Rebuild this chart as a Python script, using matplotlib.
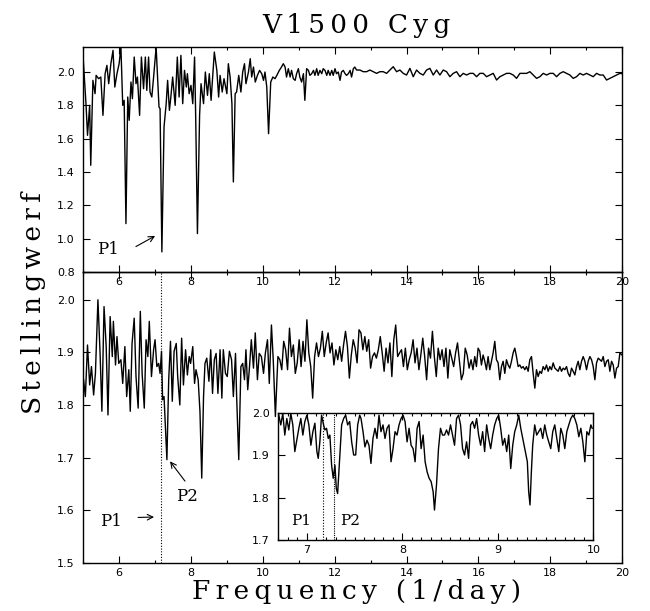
import numpy as np
import matplotlib.pyplot as plt
from matplotlib.ticker import MultipleLocator

# upper periodogram, 5-12.6 1/day (irregular sampling around the deep minima)
top_freq = [5.00, 5.08, 5.12, 5.18, 5.21, 5.27, 5.33, 5.36, 5.43, 5.49,
            5.55, 5.61, 5.66, 5.71, 5.77, 5.83, 5.88, 5.94, 6.00, 6.05,
            6.10, 6.14, 6.19, 6.24, 6.28, 6.33, 6.37, 6.42, 6.47, 6.51,
            6.57, 6.62, 6.68, 6.73, 6.77, 6.82, 6.86, 6.91, 6.96, 7.03,
            7.11, 7.14, 7.19, 7.25, 7.31, 7.35, 7.40, 7.44, 7.49, 7.56,
            7.62, 7.67, 7.72, 7.77, 7.82, 7.87, 7.90, 7.95, 8.00, 8.05,
            8.10, 8.13, 8.18, 8.24, 8.28, 8.35, 8.40, 8.46, 8.51, 8.56,
            8.61, 8.65, 8.72, 8.77, 8.81, 8.87, 8.92, 9.00, 9.04, 9.09,
            9.14, 9.18, 9.23, 9.27, 9.33, 9.39, 9.44, 9.49, 9.53, 9.60,
            9.65, 9.69, 9.74, 9.79, 9.85, 9.91, 9.97, 10.02, 10.06, 10.11,
            10.16, 10.22, 10.28, 10.34, 10.39, 10.46, 10.52, 10.57, 10.62, 10.66,
            10.71, 10.76, 10.80, 10.85, 10.90, 10.94, 10.99, 11.03, 11.08, 11.13,
            11.17, 11.22, 11.27, 11.31, 11.36, 11.41, 11.45, 11.50, 11.54, 11.59,
            11.64, 11.68, 11.73, 11.78, 11.82, 11.87, 11.92, 11.96, 12.01, 12.05,
            12.10, 12.15, 12.19, 12.24, 12.29, 12.33, 12.38, 12.43, 12.47, 12.52,
            12.56]
top_stat = [2.08, 1.80, 1.62, 1.80, 1.44, 1.95, 1.87, 1.98, 1.96, 1.97,
            1.74, 1.99, 2.04, 1.93, 2.05, 2.13, 1.91, 1.99, 2.05, 2.15,
            1.80, 1.83, 1.09, 1.85, 1.71, 1.94, 1.84, 2.09, 1.93, 1.97,
            1.74, 2.09, 1.90, 2.09, 1.89, 2.09, 1.88, 1.85, 1.97, 2.15,
            1.79, 1.78, 0.92, 1.67, 1.81, 1.95, 1.77, 1.85, 1.97, 1.80,
            2.09, 1.85, 2.10, 1.81, 2.01, 1.91, 1.99, 1.87, 1.92, 1.81,
            2.09, 1.75, 1.03, 1.74, 1.93, 1.81, 2.00, 1.86, 1.99, 1.83,
            1.99, 2.12, 2.01, 1.85, 1.98, 1.88, 1.96, 1.87, 2.05, 1.97,
            1.81, 1.34, 1.87, 1.88, 1.98, 1.88, 2.00, 2.05, 1.93, 2.00,
            2.08, 1.97, 2.03, 1.94, 1.98, 2.01, 1.99, 1.95, 2.00, 1.91,
            1.63, 1.94, 1.97, 1.96, 1.98, 2.01, 2.03, 2.05, 2.03, 1.97,
            2.02, 1.97, 2.01, 1.96, 1.95, 1.99, 2.02, 1.97, 1.94, 1.99,
            1.83, 2.02, 2.01, 1.98, 1.99, 2.01, 1.98, 2.02, 1.98, 2.01,
            1.99, 2.02, 2.01, 1.98, 2.01, 1.98, 2.01, 1.98, 2.02, 1.99,
            2.00, 1.95, 2.00, 2.01, 1.99, 1.98, 1.99, 2.01, 1.97, 2.02,
            2.03]
# upper periodogram tail, even grid 12.61-19.94
top_tail = [2.012, 2.012, 2.002, 2.002, 2.012, 2.002, 1.992, 2.002, 2.002, 1.992,
            2.012, 2.032, 2.002, 2.012, 1.992, 1.982, 2.022, 1.972, 2.012, 1.992,
            1.982, 2.012, 2.022, 1.982, 2.012, 1.982, 2.012, 2.002, 1.972, 1.992,
            2.002, 1.972, 1.992, 1.982, 1.992, 1.992, 1.972, 1.992, 1.992, 1.972,
            1.982, 1.992, 1.952, 1.972, 1.982, 1.992, 1.992, 1.982, 1.962, 1.992,
            1.992, 1.992, 2.002, 1.982, 1.962, 1.972, 1.992, 1.982, 1.992, 1.992,
            1.972, 1.992, 2.002, 1.992, 1.982, 1.962, 1.972, 1.992, 1.982, 1.992,
            1.982, 1.972, 1.992, 1.982, 1.982, 1.952, 1.962, 1.972, 1.982, 1.992]

# lower periodogram, 5-10.35 1/day
low_freq = [5.01, 5.06, 5.12, 5.18, 5.23, 5.29, 5.34, 5.41, 5.47, 5.52,
            5.58, 5.64, 5.69, 5.75, 5.81, 5.84, 5.90, 5.94, 5.99, 6.05,
            6.10, 6.16, 6.21, 6.27, 6.31, 6.36, 6.42, 6.47, 6.53, 6.59,
            6.64, 6.70, 6.75, 6.80, 6.84, 6.90, 6.96, 7.00, 7.05, 7.10,
            7.14, 7.18, 7.21, 7.25, 7.33, 7.38, 7.43, 7.48, 7.53, 7.59,
            7.63, 7.69, 7.74, 7.79, 7.85, 7.90, 7.95, 7.99, 8.05, 8.10,
            8.14, 8.20, 8.25, 8.30, 8.35, 8.39, 8.44, 8.50, 8.55, 8.60,
            8.65, 8.70, 8.75, 8.81, 8.86, 8.90, 8.96, 9.01, 9.07, 9.13,
            9.18, 9.24, 9.27, 9.33, 9.39, 9.44, 9.49, 9.53, 9.58, 9.63,
            9.68, 9.74, 9.79, 9.85, 9.90, 9.96, 10.02, 10.07, 10.13, 10.18,
            10.24, 10.29, 10.35]
low_stat = [1.848, 1.816, 1.914, 1.838, 1.873, 1.819, 1.860, 2.000, 1.898, 1.788,
            1.987, 1.911, 1.781, 1.968, 1.892, 1.959, 1.876, 1.930, 1.879, 1.886,
            1.841, 1.911, 1.816, 1.867, 1.788, 1.917, 1.965, 1.854, 1.794, 1.978,
            1.860, 1.794, 1.924, 1.892, 1.959, 1.854, 1.905, 1.924, 1.873, 1.879,
            1.860, 1.902, 1.810, 1.816, 1.696, 1.848, 1.921, 1.807, 1.902, 1.917,
            1.854, 1.800, 1.927, 1.838, 1.905, 1.857, 1.892, 1.879, 1.911, 1.841,
            1.867, 1.848, 1.788, 1.661, 1.816, 1.879, 1.889, 1.845, 1.905, 1.822,
            1.886, 1.898, 1.822, 1.905, 1.813, 1.905, 1.860, 1.854, 1.902, 1.886,
            1.816, 1.898, 1.819, 1.696, 1.873, 1.879, 1.848, 1.905, 1.829, 1.873,
            1.924, 1.870, 1.937, 1.848, 1.898, 1.892, 1.860, 1.898, 1.924, 1.841,
            1.952, 1.886, 1.778]
# lower periodogram, even grid 10.42-15.85
low_mid = [1.892, 1.886, 1.867, 1.921, 1.905, 1.867, 1.946, 1.892, 1.914, 1.860,
           1.880, 1.924, 1.873, 1.921, 1.883, 1.962, 1.899, 1.873, 1.813, 1.892,
           1.918, 1.892, 1.908, 1.940, 1.892, 1.918, 1.937, 1.899, 1.918, 1.876,
           1.905, 1.886, 1.911, 1.883, 1.914, 1.940, 1.911, 1.851, 1.895, 1.924,
           1.908, 1.880, 1.943, 1.937, 1.905, 1.930, 1.902, 1.924, 1.870, 1.892,
           1.899, 1.889, 1.905, 1.930, 1.899, 1.864, 1.908, 1.880, 1.918, 1.854,
           1.924, 1.952, 1.892, 1.899, 1.905, 1.873, 1.908, 1.867, 1.886, 1.899,
           1.924, 1.880, 1.908, 1.867, 1.895, 1.927, 1.892, 1.848, 1.908, 1.889,
           1.940, 1.892, 1.854, 1.908, 1.886, 1.905, 1.873, 1.908, 1.851, 1.905,
           1.889, 1.873, 1.899, 1.918, 1.883, 1.848, 1.860, 1.908, 1.895, 1.870,
           1.886, 1.867]
# lower periodogram, even grid 15.90-19.94
low_tail = [1.892, 1.873, 1.908, 1.902, 1.876, 1.895, 1.883, 1.867, 1.892, 1.867,
            1.883, 1.899, 1.921, 1.886, 1.880, 1.848, 1.873, 1.883, 1.860, 1.886,
            1.876, 1.870, 1.883, 1.899, 1.908, 1.892, 1.873, 1.876, 1.870, 1.873,
            1.867, 1.873, 1.864, 1.886, 1.892, 1.860, 1.832, 1.867, 1.854, 1.864,
            1.860, 1.873, 1.867, 1.876, 1.864, 1.873, 1.867, 1.880, 1.870, 1.867,
            1.864, 1.873, 1.864, 1.870, 1.867, 1.873, 1.860, 1.854, 1.870, 1.864,
            1.857, 1.873, 1.883, 1.867, 1.883, 1.892, 1.883, 1.867, 1.883, 1.892,
            1.886, 1.873, 1.848, 1.880, 1.889, 1.886, 1.883, 1.892, 1.873, 1.883,
            1.886, 1.864, 1.883, 1.876, 1.851, 1.870, 1.873, 1.899]

# zoomed periodogram 6.7-10 1/day
zoom_freq = [6.706, 6.727, 6.748, 6.769, 6.790, 6.811, 6.832, 6.853, 6.874, 6.895,
             6.916, 6.937, 6.958, 6.979, 7.000, 7.021, 7.042, 7.063, 7.084, 7.105,
             7.119, 7.136, 7.154, 7.175, 7.189, 7.206, 7.224, 7.241, 7.259, 7.276,
             7.294, 7.308, 7.322, 7.343, 7.364, 7.385, 7.406, 7.427, 7.448, 7.469,
             7.490, 7.511, 7.532, 7.553, 7.567, 7.588, 7.608, 7.629, 7.650, 7.671,
             7.692, 7.713, 7.734, 7.755, 7.776, 7.797, 7.818, 7.839, 7.860, 7.881,
             7.902, 7.923, 7.944, 7.965, 7.986, 8.007, 8.028, 8.049, 8.070, 8.091,
             8.112, 8.133, 8.154, 8.175, 8.196, 8.217, 8.238, 8.259, 8.280, 8.301,
             8.322, 8.336, 8.357, 8.378, 8.399, 8.420, 8.441, 8.462, 8.483, 8.504,
             8.525, 8.546, 8.567, 8.588, 8.609, 8.630, 8.651, 8.672, 8.693, 8.714,
             8.735, 8.756, 8.777, 8.798, 8.819, 8.840, 8.861, 8.882, 8.903, 8.924,
             8.945, 8.966, 8.987, 9.008, 9.029, 9.050, 9.071, 9.092, 9.113, 9.134,
             9.155, 9.176, 9.197, 9.218, 9.239, 9.260, 9.281, 9.295, 9.308, 9.322,
             9.336, 9.350, 9.364, 9.385, 9.406, 9.427, 9.448, 9.469, 9.490, 9.511,
             9.532, 9.553, 9.574, 9.595, 9.616, 9.637, 9.658, 9.679, 9.700, 9.721,
             9.742, 9.763, 9.784, 9.805, 9.826, 9.847, 9.868, 9.889, 9.910, 9.931,
             9.952, 9.973, 9.987]
zoom_stat = [1.995, 1.972, 1.999, 1.948, 1.987, 1.960, 1.999, 1.972, 1.909, 1.936,
             1.964, 1.987, 1.948, 1.980, 1.995, 1.972, 1.924, 1.956, 1.976, 1.909,
             1.893, 1.932, 1.995, 1.972, 1.960, 1.964, 1.940, 1.948, 1.877, 1.846,
             1.877, 1.822, 1.810, 1.893, 1.972, 1.987, 1.995, 1.972, 1.980, 1.932,
             1.901, 1.901, 1.972, 1.995, 1.987, 1.956, 1.920, 1.936, 1.924, 1.881,
             1.940, 1.964, 1.940, 1.995, 1.956, 1.972, 1.940, 1.964, 1.972, 1.885,
             1.916, 1.956, 1.948, 1.972, 1.987, 1.995, 1.980, 1.932, 1.964, 1.924,
             1.916, 1.885, 1.964, 1.980, 1.916, 1.948, 1.885, 1.861, 1.846, 1.838,
             1.814, 1.771, 1.830, 1.916, 1.964, 1.948, 1.948, 1.960, 1.948, 1.972,
             1.948, 1.924, 1.987, 1.995, 1.972, 1.916, 1.901, 1.932, 1.893, 1.972,
             1.980, 1.964, 1.987, 1.948, 1.924, 1.956, 1.909, 1.972, 1.940, 1.916,
             1.948, 1.972, 1.987, 1.995, 1.964, 1.924, 1.940, 1.909, 1.948, 1.869,
             1.924, 1.956, 1.972, 1.995, 1.964, 1.940, 1.916, 1.901, 1.885, 1.814,
             1.783, 1.861, 1.924, 1.972, 1.948, 1.956, 1.964, 1.940, 1.972, 1.948,
             1.932, 1.916, 1.956, 1.972, 1.940, 1.909, 1.964, 1.948, 1.916, 1.956,
             1.972, 1.987, 1.995, 1.987, 1.972, 1.944, 1.964, 1.932, 1.885, 1.956,
             1.948, 1.972, 1.964]

p1_main = 7.17
p1_zoom = 7.165
p2_zoom = 7.283

top_x = np.concatenate([top_freq, np.linspace(12.61, 19.94, len(top_tail)), [20.0]])
top_y = np.concatenate([top_stat, top_tail, [1.99]])
low_x = np.concatenate([low_freq, np.linspace(10.42, 15.85, len(low_mid)),
                        np.linspace(15.90, 19.94, len(low_tail)), [20.0]])
low_y = np.concatenate([low_stat, low_mid, low_tail, [1.895]])


def spaced(s):
    # wide letter spacing for the big serif labels
    return '\u2009'.join(s)


serif = 'DejaVu Serif'
plt.rcParams['font.family'] = 'DejaVu Sans'
plt.rcParams['axes.linewidth'] = 1.0

fig = plt.figure(figsize=(6.5, 6.11), dpi=100)
ax2 = fig.add_axes([0.128, 0.079, 0.829, 0.476])
ax1 = fig.add_axes([0.128, 0.555, 0.829, 0.368])
axz = fig.add_axes([0.428, 0.116, 0.485, 0.208])
# keep the upper panel's frequency labels visible over the lower panel
ax2.patch.set_alpha(0)
ax1.patch.set_alpha(0)


def style(ax, xmaj, xmin, ymaj):
    ax.xaxis.set_major_locator(MultipleLocator(xmaj))
    ax.xaxis.set_minor_locator(MultipleLocator(xmin))
    ax.yaxis.set_major_locator(MultipleLocator(ymaj))
    ax.tick_params(which='both', direction='in', top=True, right=True,
                   labelsize=8, width=0.8)
    ax.tick_params(which='major', length=5)
    ax.tick_params(which='minor', length=2.5)
    ax.tick_params(axis='y', pad=6)


ax1.plot(top_x, top_y, color='black', lw=1.0)
ax1.set_xlim(5, 20)
ax1.set_ylim(0.8, 2.15)
style(ax1, 2, 1, 0.2)
ax1.yaxis.set_major_formatter(plt.FormatStrFormatter('%.1f'))
ax1.text(5.39, 0.935, 'P1', family=serif, fontsize=12, ha='left', va='center')
ax1.annotate('', xy=(7.07, 1.024), xytext=(6.40, 0.944),
             arrowprops=dict(arrowstyle='->', lw=0.8, color='black'))

ax2.plot(low_x, low_y, color='black', lw=1.0)
ax2.axvline(p1_main, color='black', lw=0.8, ls=(0, (1, 1.5)))
ax2.set_xlim(5, 20)
ax2.set_ylim(1.5, 2.053)
style(ax2, 2, 1, 0.1)
ax2.yaxis.set_major_formatter(plt.FormatStrFormatter('%.1f'))
ax2.text(5.47, 1.579, 'P1', family=serif, fontsize=12, ha='left', va='center')
ax2.annotate('', xy=(7.05, 1.587), xytext=(6.45, 1.586),
             arrowprops=dict(arrowstyle='->', lw=0.8, color='black'))
ax2.text(7.59, 1.625, 'P2', family=serif, fontsize=12, ha='left', va='center')
ax2.annotate('', xy=(7.37, 1.697), xytext=(7.88, 1.651),
             arrowprops=dict(arrowstyle='->', lw=0.8, color='black'))

axz.set_facecolor('white')
axz.plot(zoom_freq, zoom_stat, color='black', lw=1.0)
axz.axvline(p1_zoom, color='black', lw=0.8, ls=(0, (1, 1.5)))
axz.axvline(p2_zoom, color='black', lw=0.8, ls=(0, (1, 1)))
axz.set_xlim(6.70, 10.0)
axz.set_ylim(1.7, 2.0)
style(axz, 1, 0.1, 0.1)
axz.yaxis.set_major_formatter(plt.FormatStrFormatter('%.1f'))
axz.text(6.84, 1.745, 'P1', family=serif, fontsize=11, ha='left', va='center')
axz.text(7.35, 1.745, 'P2', family=serif, fontsize=11, ha='left', va='center')

fig.text(0.549, 0.958, spaced('V1500 Cyg'), family=serif, fontsize=19,
         ha='center', va='center')
fig.text(0.548, 0.032, spaced('Frequency (1/day)'), family=serif, fontsize=19,
         ha='center', va='center')
fig.text(0.051, 0.504, spaced('Stellingwerf'), family=serif, fontsize=19,
         ha='center', va='center', rotation=90)

fig.savefig('out.png', dpi=100)
